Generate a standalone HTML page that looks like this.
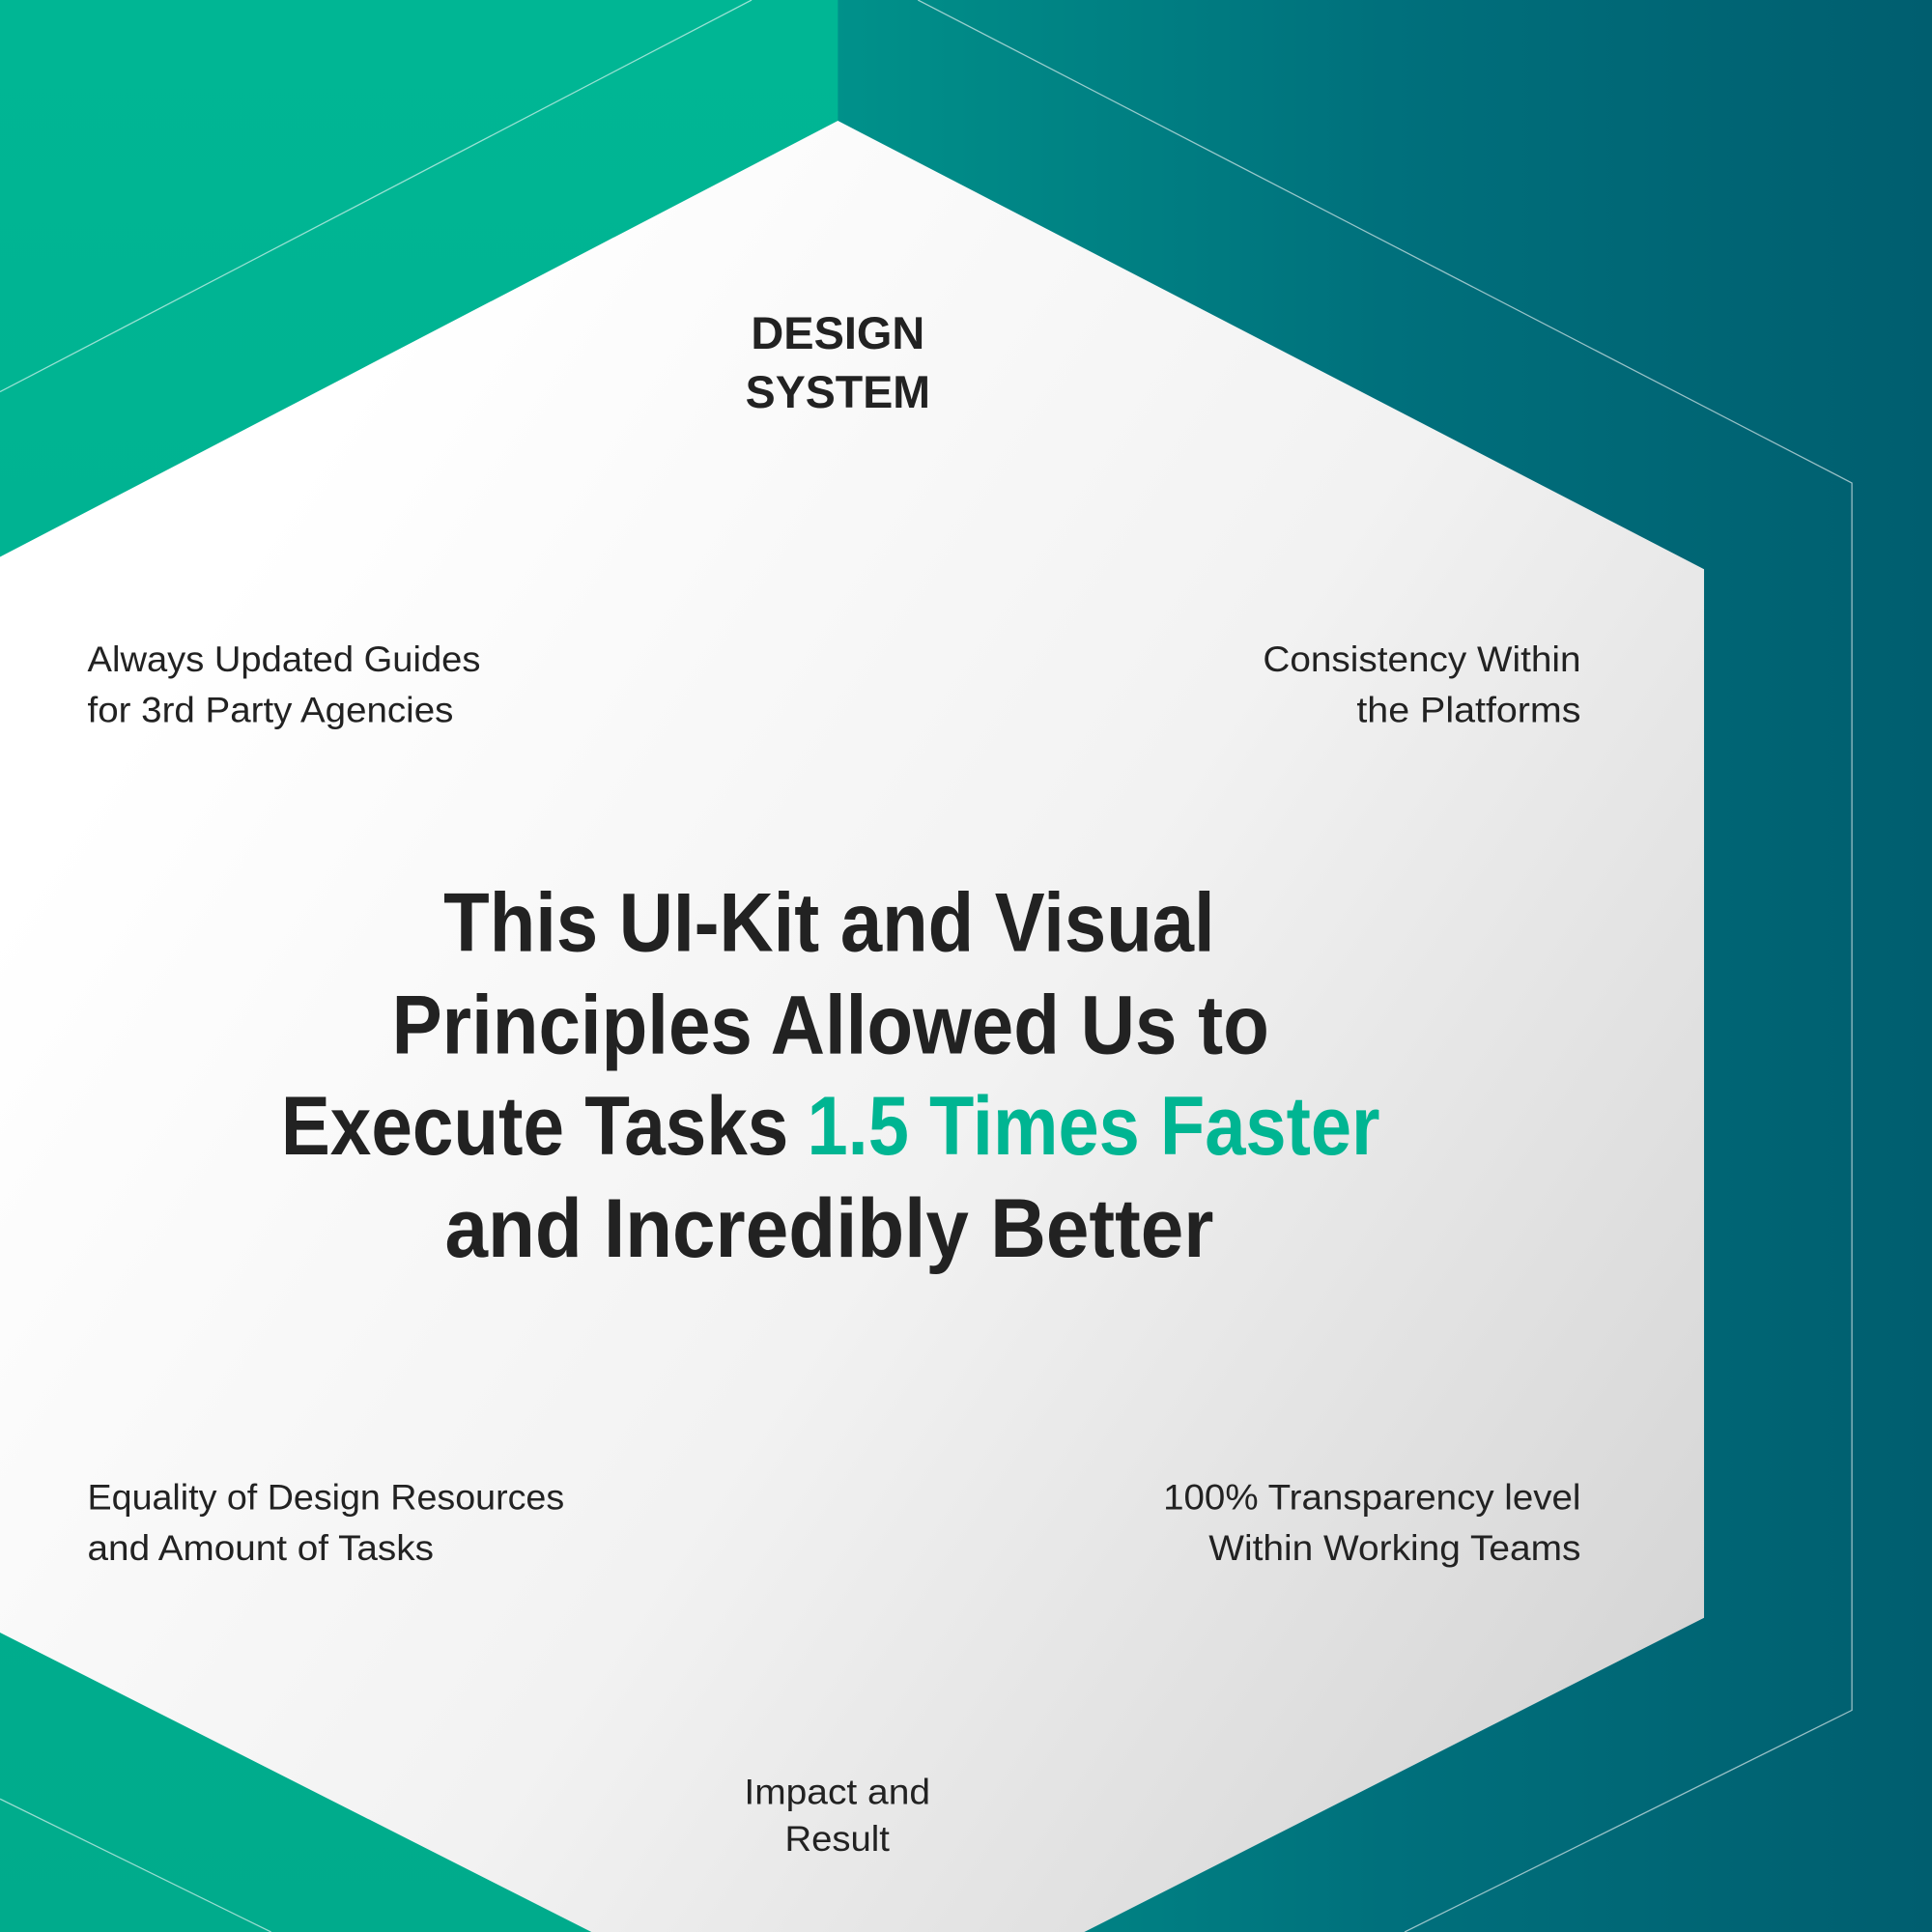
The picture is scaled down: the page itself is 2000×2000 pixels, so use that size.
<!DOCTYPE html>
<html><head><meta charset="utf-8"><style>
html,body{margin:0;padding:0;width:2000px;height:2000px;overflow:hidden;}
svg{display:block}
text{font-family:"Liberation Sans",sans-serif;fill:#222}
</style></head><body>
<svg width="2000" height="2000" viewBox="0 0 1568 1568" xmlns="http://www.w3.org/2000/svg">
<defs>
<linearGradient id="teal" x1="680" y1="0" x2="1568" y2="0" gradientUnits="userSpaceOnUse">
<stop offset="0" stop-color="#00918a"/><stop offset="0.5" stop-color="#00707c"/><stop offset="1" stop-color="#005e6f"/>
</linearGradient>
<linearGradient id="green" x1="0" y1="0" x2="0" y2="1">
<stop offset="0" stop-color="#00b694"/><stop offset="1" stop-color="#00ab8c"/>
</linearGradient>
<linearGradient id="hex" x1="0.1" y1="0.3" x2="0.95" y2="0.9">
<stop offset="0" stop-color="#ffffff"/><stop offset="0.5" stop-color="#f2f2f2"/><stop offset="1" stop-color="#d6d6d6"/>
</linearGradient>
</defs>
<rect x="0" y="0" width="1568" height="1568" fill="url(#teal)"/>
<rect x="0" y="0" width="680" height="1568" fill="url(#green)"/>
<g fill="none" stroke="#ffffff" stroke-opacity="0.6" stroke-width="1">
<polyline points="0,318 610,0"/>
<polyline points="745,0 1503,392 1503,1388 1140,1568"/>
<polyline points="0,1460 220,1568"/>
</g>
<polygon points="680,98 1383,462 1383,1313 880,1568 480,1568 0,1325 0,452" fill="url(#hex)"/>
<g font-weight="bold" font-size="37" text-anchor="middle">
<text x="680" y="283" fill="#333" textLength="141" lengthAdjust="spacingAndGlyphs">DESIGN</text>
<text x="680" y="331" fill="#333" textLength="150" lengthAdjust="spacingAndGlyphs">SYSTEM</text>
</g>
<g font-size="29">
<text x="71" y="545" textLength="319" lengthAdjust="spacingAndGlyphs">Always Updated Guides</text>
<text x="71" y="586" textLength="297" lengthAdjust="spacingAndGlyphs">for 3rd Party Agencies</text>
<text x="1025" y="545" textLength="258" lengthAdjust="spacingAndGlyphs">Consistency Within</text>
<text x="1101" y="586" textLength="182" lengthAdjust="spacingAndGlyphs">the Platforms</text>
<text x="71" y="1225" textLength="387" lengthAdjust="spacingAndGlyphs">Equality of Design Resources</text>
<text x="71" y="1266" textLength="281" lengthAdjust="spacingAndGlyphs">and Amount of Tasks</text>
<text x="944" y="1225" textLength="339" lengthAdjust="spacingAndGlyphs">100% Transparency level</text>
<text x="981" y="1266" textLength="302" lengthAdjust="spacingAndGlyphs">Within Working Teams</text>
<text x="604" y="1464" textLength="151" lengthAdjust="spacingAndGlyphs">Impact and</text>
<text x="637" y="1502" textLength="85" lengthAdjust="spacingAndGlyphs">Result</text>
</g>
<g font-weight="bold" font-size="68">
<text x="360" y="772" textLength="626" lengthAdjust="spacingAndGlyphs">This UI-Kit and Visual</text>
<text x="318" y="855" textLength="712" lengthAdjust="spacingAndGlyphs">Principles Allowed Us to</text>
<text x="228" y="937" textLength="412" lengthAdjust="spacingAndGlyphs">Execute Tasks</text>
<text x="655" y="937" style="fill:#00b592" textLength="465" lengthAdjust="spacingAndGlyphs">1.5 Times Faster</text>
<text x="361" y="1020" textLength="624" lengthAdjust="spacingAndGlyphs">and Incredibly Better</text>
</g>
</svg>
</body></html>
